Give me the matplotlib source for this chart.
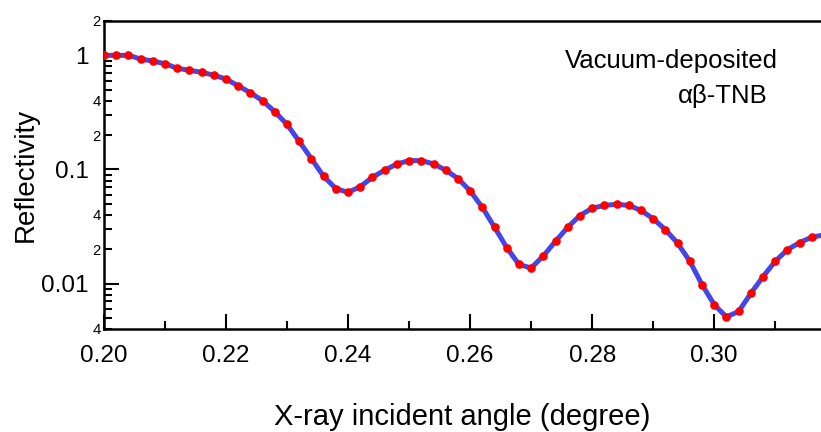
import matplotlib
matplotlib.use("Agg")
import matplotlib.pyplot as plt
from matplotlib.ticker import FixedLocator, FuncFormatter, MultipleLocator
import numpy as np

plt.rcParams['font.family'] = ['Liberation Sans', 'DejaVu Sans']

angle = [0.200, 0.202, 0.204, 0.206, 0.208, 0.210, 0.212, 0.214, 0.216, 0.218,
         0.220, 0.222, 0.224, 0.226, 0.228, 0.230, 0.232, 0.234, 0.236, 0.238,
         0.240, 0.242, 0.244, 0.246, 0.248, 0.250, 0.252, 0.254, 0.256, 0.258,
         0.260, 0.262, 0.264, 0.266, 0.268, 0.270, 0.272, 0.274, 0.276, 0.278,
         0.280, 0.282, 0.284, 0.286, 0.288, 0.290, 0.292, 0.294, 0.296, 0.298,
         0.300, 0.302, 0.304, 0.306, 0.308, 0.310, 0.312, 0.314, 0.316]
reflectivity = [1.00, 1.00, 1.00, 0.93, 0.89, 0.845, 0.77, 0.74, 0.71, 0.67,
                0.62, 0.54, 0.47, 0.40, 0.32, 0.248, 0.176, 0.124, 0.087, 0.068,
                0.063, 0.0707, 0.0855, 0.0986, 0.1116, 0.1196, 0.1196, 0.112, 0.0986, 0.0833,
                0.0650, 0.0465, 0.0312, 0.0207, 0.0147, 0.0137, 0.0175, 0.0235, 0.0312, 0.0395,
                0.0458, 0.0484, 0.0495, 0.0484, 0.0438, 0.0370, 0.0297, 0.0226, 0.0157, 0.0098,
                0.00654, 0.0051, 0.0057, 0.0082, 0.0115, 0.0157, 0.0198, 0.0229, 0.0255]

fit_angle = angle + [0.3185]
fit_refl = reflectivity + [0.0270]

y_major = [0.01, 0.1, 1]
y_major_labels = ["0.01", "0.1", "1"]
y_minor_label_map = {0.004: "4", 0.02: "2", 0.04: "4", 0.2: "2", 0.4: "4", 2.0: "2"}

fig = plt.figure(figsize=(8.21, 4.32), dpi=100)
ax = fig.add_axes([104/821, (432-329)/432, 1 - 104/821, (329-21)/432])

ax.plot(fit_angle, fit_refl, color='#4646e6', lw=3.6, solid_capstyle='round', zorder=2)
ax.plot(angle, reflectivity, 'o', color='#ff0000', ms=6.2, mec='none', zorder=3)

ax.set_yscale('log')
ax.set_xlim(0.2, 0.3175)
ax.set_ylim(0.004, 2)

ax.xaxis.set_major_locator(MultipleLocator(0.02))
ax.xaxis.set_minor_locator(MultipleLocator(0.01))
ax.xaxis.set_major_formatter(FuncFormatter(lambda v, p: f"{v:.2f}"))

ax.yaxis.set_major_locator(FixedLocator(y_major))
ax.yaxis.set_major_formatter(FuncFormatter(lambda v, p: y_major_labels[y_major.index(min(y_major, key=lambda m: abs(np.log10(m) - np.log10(v))))]))
minor_pos = [m * d for d in (0.001, 0.01, 0.1) for m in range(2, 10)] + [2.0]
minor_pos = [p for p in minor_pos if p >= 0.004 - 1e-9]
ax.yaxis.set_minor_locator(FixedLocator(minor_pos))

def minor_fmt(v, p):
    for k, s in y_minor_label_map.items():
        if abs(v - k) / k < 1e-6:
            return s
    return ""
ax.yaxis.set_minor_formatter(FuncFormatter(minor_fmt))

ax.tick_params(axis='both', which='major', direction='in', length=10.5, width=1.5, labelsize=17.5, color='black')
ax.tick_params(axis='both', which='minor', direction='in', length=5.5, width=1.5, color='black')
ax.tick_params(axis='y', which='minor', labelsize=10.7, pad=2.5)
ax.tick_params(axis='y', which='major', pad=11)
ax.tick_params(axis='x', which='major', pad=11.5)

for s in ['left', 'bottom', 'top']:
    ax.spines[s].set_linewidth(1.8)
ax.spines['right'].set_visible(False)

ax.set_xlabel("X-ray incident angle (degree)", fontsize=21, labelpad=26)
ax.set_ylabel("Reflectivity", fontsize=20, labelpad=2)

ax.text(0.791, 0.848, "Vacuum-deposited", transform=ax.transAxes, fontsize=18.5, ha='center', va='baseline')
ax.text(0.863, 0.735, "αβ-TNB", transform=ax.transAxes, fontsize=18.5, ha='center', va='baseline')

fig.savefig("out.png", dpi=100)
